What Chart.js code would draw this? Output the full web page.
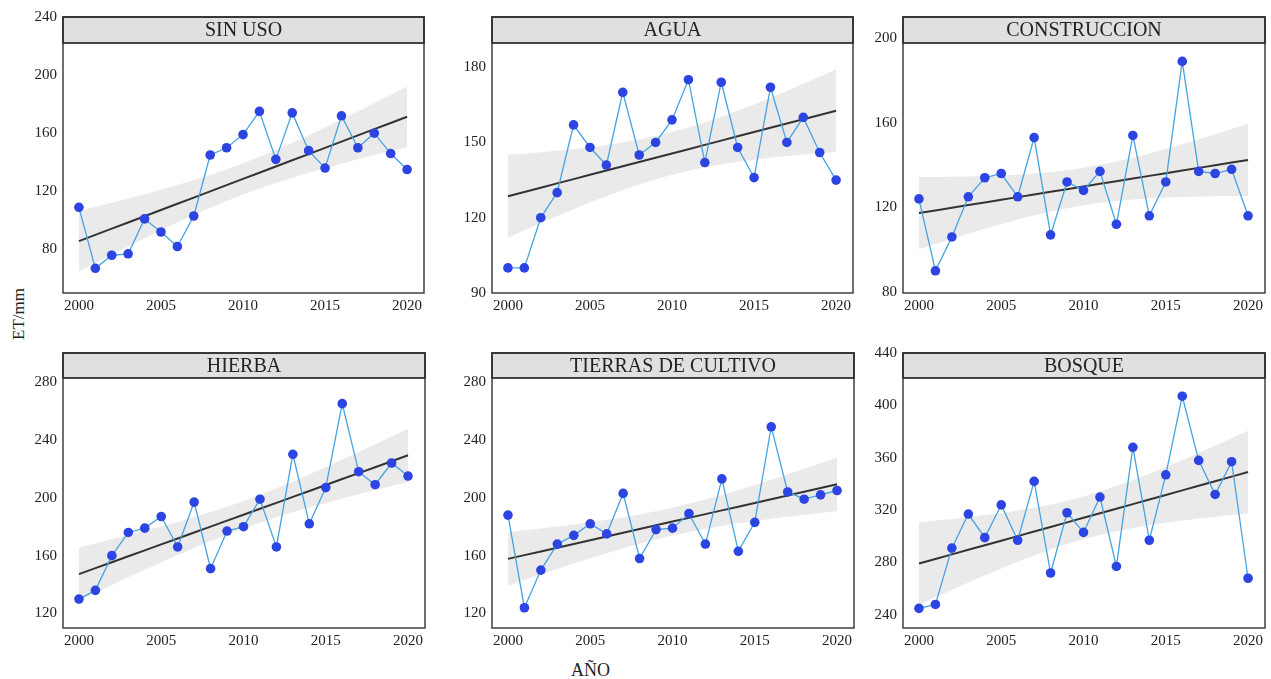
<!DOCTYPE html>
<html lang="es">
<head>
<meta charset="UTF-8">
<title>ET por uso del suelo</title>
<script src="https://cdn.jsdelivr.net/npm/chart.js"></script>
<style>
  body { margin: 0; background: #fff; width: 1271px; height: 679px; position: relative; overflow: hidden;
         font-family: "Liberation Serif", "DejaVu Serif", serif; color: #222; }
  canvas { position: absolute; }
  .lbl { position: absolute; color: #222; white-space: nowrap; line-height: 20px; }
  #ylab { left: -7px; top: 304px; width: 52px; text-align: center; transform: rotate(-90deg); font-size: 17px; }
  #xlab { left: 571px; top: 660px; font-size: 18px; }
</style>
</head>
<body>
<div id="ylab" class="lbl">ET/mm</div>
<div id="xlab" class="lbl">AÑO</div>

<script>
// years on the x axis
var years = [2000, 2001, 2002, 2003, 2004, 2005, 2006, 2007, 2008, 2009, 2010,
             2011, 2012, 2013, 2014, 2015, 2016, 2017, 2018, 2019, 2020];
var xTicks = [2000, 2005, 2010, 2015, 2020];

// ET values, one list per land use
var sinUso = [109, 67, 76, 77, 101, 92, 82, 103, 145, 150, 159,
              175, 142, 174, 148, 136, 172, 150, 160, 146, 135];
var agua = [100, 100, 120, 130, 157, 148, 141, 170, 145, 150, 159,
            175, 142, 174, 148, 136, 172, 150, 160, 146, 135];
var construccion = [124, 90, 106, 125, 134, 136, 125, 153, 107, 132, 128,
                    137, 112, 154, 116, 132, 189, 137, 136, 138, 116];
var hierba = [130, 136, 160, 176, 179, 187, 166, 197, 151, 177, 180,
              199, 166, 230, 182, 207, 265, 218, 209, 224, 215];
var tierras = [188, 124, 150, 168, 174, 182, 175, 203, 158, 178, 179,
               189, 168, 213, 163, 183, 249, 204, 199, 202, 205];
var bosque = [245, 248, 291, 317, 299, 324, 297, 342, 272, 318, 303,
              330, 277, 368, 297, 347, 407, 358, 332, 357, 268];

// tick labels on each y axis
var ticksSinUso = [80, 120, 160, 200, 240];
var ticksAgua = [90, 120, 150, 180];
var ticksConstruccion = [80, 120, 160, 200];
var ticksHierba = [120, 160, 200, 240, 280];
var ticksTierras = [120, 160, 200, 240, 280];
var ticksBosque = [240, 280, 320, 360, 400, 440];

var panels = [
  { title: 'SIN USO', values: sinUso, yTicks: ticksSinUso, yMin: 50, yMax: 240 },
  { title: 'AGUA', values: agua, yTicks: ticksAgua, yMin: 90, yMax: 200 },
  { title: 'CONSTRUCCION', values: construccion, yTicks: ticksConstruccion, yMin: 79.5, yMax: 210 },
  { title: 'HIERBA', values: hierba, yTicks: ticksHierba, yMin: 110, yMax: 300 },
  { title: 'TIERRAS DE CULTIVO', values: tierras, yTicks: ticksTierras, yMin: 110, yMax: 300 },
  { title: 'BOSQUE', values: bosque, yTicks: ticksBosque, yMin: 230, yMax: 440 }
];

// plot frame of each panel on the page: left, top, width, height, strip height
var frames = [
  [63, 17, 361, 276, 26], [492, 17, 361, 276, 26], [903, 17, 362, 276, 26],
  [63, 353, 362, 275, 25], [492, 353, 362, 275, 25], [903, 353, 362, 275, 25]
];

var PAD_L = 60, PAD_T = 10, PAD_R = 10, PAD_B = 32;
var FONT = '"Liberation Serif", "DejaVu Serif", serif';

// linear fit with 95% confidence band
function fitBand(xs, ys) {
  var n = xs.length, xm = 0, ym = 0;
  for (var i = 0; i < n; i++) { xm += xs[i]; ym += ys[i]; }
  xm /= n; ym /= n;
  var sxx = 0, sxy = 0;
  for (i = 0; i < n; i++) { sxx += (xs[i] - xm) * (xs[i] - xm); sxy += (xs[i] - xm) * (ys[i] - ym); }
  var b = sxy / sxx, sse = 0;
  for (i = 0; i < n; i++) { var r = ys[i] - (ym + b * (xs[i] - xm)); sse += r * r; }
  var s = Math.sqrt(sse / (n - 2)), t = 2.093;
  var fit = [], lo = [], hi = [];
  xs.forEach(function (x) {
    var f = ym + b * (x - xm);
    var hw = t * s * Math.sqrt(1 / n + (x - xm) * (x - xm) / sxx);
    fit.push({ x: x, y: f }); lo.push({ x: x, y: f - hw }); hi.push({ x: x, y: f + hw });
  });
  return { fit: fit, lo: lo, hi: hi };
}

var stripPlugin = {
  id: 'strip',
  afterDraw: function (chart, args, opts) {
    var ctx = chart.ctx, a = chart.chartArea;
    ctx.save();
    ctx.fillStyle = '#e0e0e0';
    ctx.fillRect(a.left, a.top, a.right - a.left, opts.height);
    ctx.lineWidth = 1.6;
    ctx.strokeStyle = '#1a1a1a';
    ctx.strokeRect(a.left, a.top, a.right - a.left, opts.height);
    ctx.strokeStyle = '#333';
    ctx.lineWidth = 1.4;
    ctx.strokeRect(a.left, a.top, a.right - a.left, a.bottom - a.top);
    ctx.fillStyle = '#222';
    ctx.font = '20px ' + FONT;
    ctx.textAlign = 'center';
    ctx.textBaseline = 'middle';
    ctx.fillText(opts.title, (a.left + a.right) / 2, a.top + opts.height / 2 + 1);
    ctx.restore();
  }
};

panels.forEach(function (p, k) {
  var fr = frames[k];
  var cv = document.createElement('canvas');
  cv.width = fr[2] + PAD_L + PAD_R;
  cv.height = fr[3] + PAD_T + PAD_B;
  cv.style.left = (fr[0] - PAD_L) + 'px';
  cv.style.top = (fr[1] - PAD_T) + 'px';
  document.body.appendChild(cv);

  var band = fitBand(years, p.values);
  var pts = years.map(function (y, i) { return { x: y, y: p.values[i] }; });

  new Chart(cv.getContext('2d'), {
    type: 'scatter',
    data: {
      datasets: [
        { data: pts, showLine: true, borderColor: '#45a3e0', borderWidth: 1.3,
          pointRadius: 4.8, pointBackgroundColor: '#2c45e2', pointBorderWidth: 0, tension: 0 },
        { data: band.fit, showLine: true, borderColor: '#333', borderWidth: 2, pointRadius: 0 },
        { data: band.hi, showLine: true, borderWidth: 0, borderColor: 'rgba(0,0,0,0)', pointRadius: 0,
          backgroundColor: 'rgba(222,222,222,0.65)', fill: '+1' },
        { data: band.lo, showLine: true, borderWidth: 0, borderColor: 'rgba(0,0,0,0)', pointRadius: 0 }
      ]
    },
    options: {
      responsive: false,
      animation: false,
      layout: { padding: { left: 0, top: PAD_T, right: PAD_R, bottom: 0 } },
      plugins: {
        legend: { display: false },
        tooltip: { enabled: false },
        strip: { title: p.title, height: fr[4] }
      },
      scales: {
        x: {
          type: 'linear', min: 1999.03, max: 2021.03,
          grid: { display: false, drawTicks: false }, border: { display: false },
          afterBuildTicks: function (s) { s.ticks = xTicks.map(function (v) { return { value: v }; }); },
          afterFit: function (s) { s.height = PAD_B; s.paddingLeft = 0; s.paddingRight = 0; },
          ticks: { color: '#222', padding: 4, font: { family: FONT, size: 15 },
                   callback: function (v) { return String(v); } }
        },
        y: {
          min: p.yMin, max: p.yMax,
          grid: { display: false, drawTicks: false }, border: { display: false },
          afterBuildTicks: function (s) { s.ticks = p.yTicks.map(function (v) { return { value: v }; }); },
          afterFit: function (s) { s.width = PAD_L; s.paddingTop = 0; s.paddingBottom = 0; },
          ticks: { color: '#222', padding: 6, font: { family: FONT, size: 15 } }
        }
      }
    },
    plugins: [stripPlugin]
  });
});
</script>
</body>
</html>
